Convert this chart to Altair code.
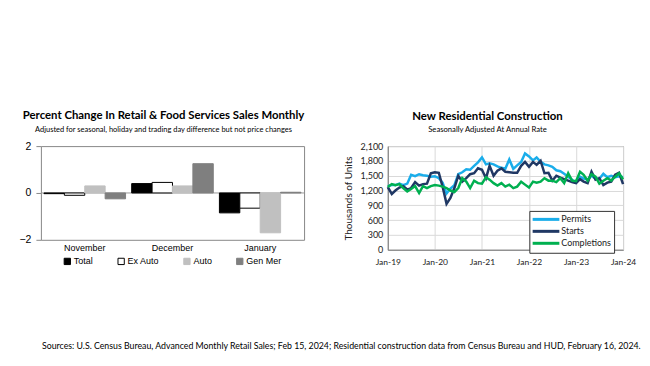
import altair as alt
import pandas as pd

# ---------------- Left chart: retail sales ----------------
months = ["November", "December", "January"]
series = ["Total", "Ex Auto", "Auto", "Gen Mer"]
total = [-0.03, 0.40, -0.85]
ex_auto = [-0.10, 0.45, -0.65]
auto = [0.30, 0.30, -1.70]
gen_mer = [-0.25, 1.25, 0.03]
bar_fill = ["#000000", "#FFFFFF", "#C0C0C0", "#7F7F7F"]
bar_stroke = ["#000000", "#000000", "#C0C0C0", "#7F7F7F"]
y_ticks_left = [-2, -1, 0, 1, 2]

# ---------------- Right chart: residential construction ----------------
start_month = "2019-01-01"
permits = [1290, 1310, 1310, 1340, 1310, 1340, 1520, 1490, 1530, 1510, 1500, 1480,
           1490, 1450, 1360, 1140, 1240, 1310, 1530, 1570, 1630, 1620, 1700, 1770,
           1870, 1730, 1750, 1730, 1690, 1660, 1640, 1830, 1640, 1710, 1780, 1950,
           1890, 1810, 1870, 1780, 1730, 1710, 1680, 1610, 1590, 1540, 1480, 1420,
           1360, 1480, 1440, 1420, 1500, 1440, 1440, 1540, 1470, 1500, 1470, 1490,
           1470]
starts = [1270, 1130, 1200, 1260, 1290, 1220, 1250, 1370, 1300, 1330, 1340, 1550,
          1570, 1560, 1280, 930, 1050, 1250, 1500, 1380, 1450, 1530, 1550, 1650,
          1620, 1450, 1700, 1500, 1600, 1650, 1580, 1570, 1560, 1560, 1700, 1780,
          1680, 1780, 1720, 1800, 1550, 1560, 1400, 1500, 1460, 1430, 1400, 1370,
          1350, 1430, 1380, 1350, 1580, 1420, 1450, 1310, 1360, 1380, 1520, 1560,
          1330]
completions = [1270, 1330, 1310, 1330, 1250, 1180, 1230, 1290, 1150, 1290, 1250, 1290,
               1310, 1300, 1280, 1250, 1200, 1170, 1250, 1450, 1380, 1250, 1400, 1350,
               1340, 1470, 1420, 1350, 1300, 1350, 1280, 1320, 1250, 1280, 1380, 1320,
               1260, 1380, 1360, 1380, 1450, 1400, 1400, 1370, 1450, 1350, 1550, 1400,
               1390, 1580, 1520, 1400, 1530, 1480, 1340, 1400, 1450, 1400, 1480, 1550,
               1430]
line_names = ["Permits", "Starts", "Completions"]
line_colors = ["#1AADEA", "#203864", "#00B050"]
tick_years = [2019, 2020, 2021, 2022, 2023, 2024]
y_ticks_right = [0, 300, 600, 900, 1200, 1500, 1800, 2100]

footer = ("Sources: U.S. Census Bureau, Advanced Monthly Retail Sales; Feb 15, 2024; "
          "Residential construction data from Census Bureau and HUD, February 16, 2024.")

TITLE_FONT = "Lato"
ARIAL = "Liberation Sans"

# ---- build left data
rows = []
for i, m in enumerate(months):
    for s, vals in zip(series, [total, ex_auto, auto, gen_mer]):
        rows.append({"Month": m, "Series": s, "Value": vals[i]})
df_left = pd.DataFrame(rows)

leg_left = alt.Legend(title=None, orient="none", legendX=22, legendY=111,
                      direction="horizontal", symbolType="square", symbolSize=40,
                      labelFontSize=9, labelFont=ARIAL, labelColor="#000",
                      columnPadding=22, labelOffset=2, symbolStrokeWidth=1)

bars = alt.Chart(df_left).mark_bar(strokeWidth=1).encode(
    x=alt.X("Month:N", sort=months,
            scale=alt.Scale(paddingInner=0.07, paddingOuter=0.035),
            axis=alt.Axis(title=None, labelAngle=0, ticks=False, domain=False,
                          labelFontSize=9, labelFont=ARIAL, labelColor="#000",
                          labelPadding=4)),
    xOffset=alt.XOffset("Series:N", sort=series,
                        scale=alt.Scale(paddingInner=0, paddingOuter=0)),
    y=alt.Y("Value:Q", scale=alt.Scale(domain=[-2, 2]),
            axis=alt.Axis(values=y_ticks_left, grid=False, title=None,
                          labelFontSize=10.5, labelFont=ARIAL, labelColor="#000",
                          tickSize=5, labelPadding=5, domain=False, tickColor="#888")),
    fill=alt.Fill("Series:N", sort=series,
                  scale=alt.Scale(domain=series, range=bar_fill), legend=leg_left),
    stroke=alt.Stroke("Series:N", sort=series,
                      scale=alt.Scale(domain=series, range=bar_stroke), legend=leg_left),
)

zero = alt.Chart(pd.DataFrame({"v": [0]})).mark_rule(color="#999999", strokeWidth=1).encode(
    y=alt.Y("v:Q"))

left = alt.layer(zero, bars).properties(
    width=264, height=94,
    title=alt.TitleParams(
        text="Percent Change In Retail & Food Services Sales Monthly",
        subtitle="Adjusted for seasonal, holiday and trading day difference but not price changes",
        font=TITLE_FONT, fontSize=11.4, fontWeight="bold", color="#000",
        subtitleFont=TITLE_FONT, subtitleFontSize=7.5, subtitleColor="#000",
        subtitlePadding=4, offset=8, anchor="middle", dx=-9),
)

# ---- build right data
dates = pd.date_range(start_month, periods=len(permits), freq="MS").strftime("%Y-%m-%d")
rrows = []
for name, vals in zip(line_names, [permits, starts, completions]):
    for d, v in zip(dates, vals):
        rrows.append({"date": d, "series": name, "value": v})
df_right = pd.DataFrame(rrows)

tick_dates = [alt.DateTime(year=y, month=1, date=1) for y in tick_years]

lines = alt.Chart(df_right).mark_line(strokeWidth=2.5).encode(
    x=alt.X("date:T",
            scale=alt.Scale(domain=[tick_dates[0], tick_dates[-1]]),
            axis=alt.Axis(values=tick_dates, format="%b-%y", title=None,
                          gridColor="#D9D9D9", ticks=False, labelFontSize=8.5,
                          labelFont=TITLE_FONT, labelColor="#222", labelPadding=8,
                          labelFlush=False, labelOverlap=False, labelBound=False,
                          domainColor="#808080")),
    y=alt.Y("value:Q", scale=alt.Scale(domain=[0, 2100]),
            axis=alt.Axis(values=y_ticks_right, format=",.0f", title="Thousands of Units",
                          titleFont=TITLE_FONT, titleFontSize=10, titleFontWeight="normal",
                          titleColor="#222", titlePadding=6,
                          gridColor="#D9D9D9", ticks=False, labelFontSize=9,
                          labelFont=TITLE_FONT, labelColor="#222", labelPadding=5,
                          domainColor="#808080")),
    color=alt.Color("series:N", sort=line_names,
                    scale=alt.Scale(domain=line_names, range=line_colors),
                    legend=alt.Legend(title=None, orient="none", legendX=142, legendY=65,
                                      symbolType="M-1.3,0H5.4", symbolStrokeWidth=3,
                                      symbolSize=64, labelFontSize=9,
                                      labelFont=TITLE_FONT, labelColor="#222",
                                      strokeColor="#333", fillColor="white",
                                      padding=3, rowPadding=-2, labelOffset=18)),
)

right = lines.properties(
    width=236, height=104,
    title=alt.TitleParams(
        text="New Residential Construction",
        subtitle="Seasonally Adjusted At Annual Rate",
        font=TITLE_FONT, fontSize=11.4, fontWeight="bold", color="#000",
        subtitleFont=TITLE_FONT, subtitleFontSize=7.7, subtitleColor="#000",
        subtitlePadding=4, offset=8, anchor="middle", dx=-18),
)

chart = alt.hconcat(left, right, spacing=38).resolve_scale(
    color="independent", fill="independent", stroke="independent"
).resolve_legend(
    color="independent", fill="independent", stroke="independent"
).properties(
    padding={"left": 10, "top": 101, "right": 0, "bottom": 0},
    title=alt.TitleParams(text=footer, orient="bottom", anchor="middle", offset=75,
                          dx=14, font=TITLE_FONT, fontSize=8.8, fontWeight="normal",
                          color="#000"),
).configure_view(stroke="#888888")

chart.save("out.html", embed_options={"renderer": "svg", "actions": False})
